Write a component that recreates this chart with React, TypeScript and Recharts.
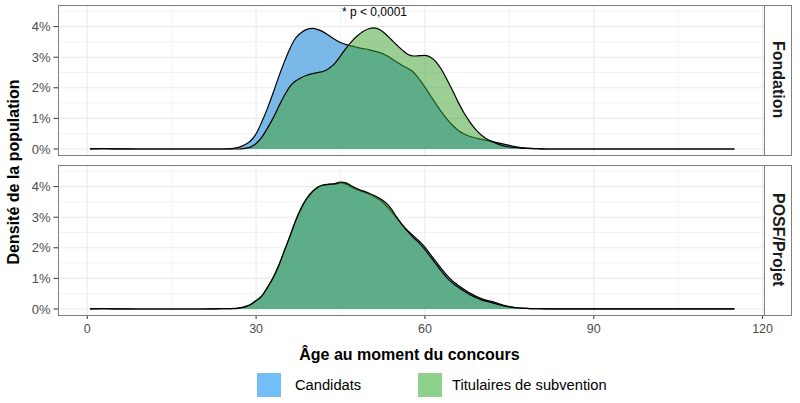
import React from 'react';
import { ComposedChart, Area, XAxis, YAxis, CartesianGrid } from 'recharts';

// Age grid (years)
const ages = [
  0.5, 3, 6, 10, 15, 20, 24, 26, 27, 28, 29, 30, 31, 32, 33, 34, 35, 36, 37, 38, 39, 40,
  41, 42, 43, 44, 45, 46, 47, 48, 49, 50, 51, 52, 53, 54, 55, 56, 57, 58, 59, 60,
  61, 62, 63, 64, 65, 66, 67, 68, 69, 70, 71, 72, 73, 74, 75, 76, 77, 78, 80, 82,
  85, 90, 100, 110, 115,
];

// Density (%) – Fondation
const fondationCandidats = [
  0.005, 0.01, 0.005, 0, 0, 0, 0, 0.02, 0.06, 0.14, 0.26, 0.5, 0.88, 1.32, 1.82, 2.35, 2.84, 3.28, 3.62, 3.8, 3.91, 3.94,
  3.9, 3.82, 3.7, 3.58, 3.48, 3.41, 3.36, 3.32, 3.28, 3.25, 3.2, 3.15, 3.07, 2.96, 2.84, 2.73, 2.63, 2.5, 2.28, 2.02,
  1.74, 1.46, 1.2, 0.96, 0.76, 0.6, 0.49, 0.41, 0.36, 0.32, 0.28, 0.24, 0.2, 0.16, 0.12, 0.08, 0.05, 0.03, 0.01, 0,
  0, 0, 0, 0, 0,
];
const fondationTitulaires = [
  0.005, 0.01, 0.005, 0, 0, 0, 0, 0, 0, 0.02, 0.06, 0.18, 0.38, 0.68, 1.0, 1.38, 1.74, 2.04, 2.22, 2.33, 2.41, 2.46,
  2.5, 2.54, 2.64, 2.8, 3.04, 3.3, 3.52, 3.7, 3.84, 3.93, 3.96, 3.9, 3.76, 3.58, 3.4, 3.23, 3.09, 3.04, 3.05, 3.06,
  3.0, 2.84, 2.58, 2.24, 1.88, 1.5, 1.16, 0.88, 0.64, 0.46, 0.33, 0.24, 0.16, 0.1, 0.07, 0.05, 0.03, 0.02, 0.01, 0,
  0, 0, 0, 0, 0,
];

// Density (%) – POSF/Projet
const posfCandidats = [
  0.005, 0.01, 0.005, 0, 0, 0, 0.01, 0.02, 0.04, 0.08, 0.15, 0.28, 0.42, 0.7, 1.0, 1.4, 1.88, 2.36, 2.86, 3.28, 3.6, 3.82,
  3.98, 4.05, 4.07, 4.08, 4.12, 4.08, 3.98, 3.9, 3.83, 3.76, 3.67, 3.56, 3.4, 3.2, 2.96, 2.74, 2.55, 2.38, 2.22, 2.02,
  1.78, 1.54, 1.3, 1.08, 0.9, 0.76, 0.64, 0.52, 0.42, 0.34, 0.28, 0.24, 0.18, 0.12, 0.08, 0.05, 0.03, 0.02, 0.01, 0.005,
  0.003, 0.002, 0.001, 0.001, 0.001,
];
const posfTitulaires = [
  0.005, 0.01, 0.005, 0, 0, 0, 0.01, 0.01, 0.03, 0.07, 0.14, 0.27, 0.42, 0.7, 1.02, 1.42, 1.9, 2.38, 2.88, 3.3, 3.62, 3.84,
  3.99, 4.06, 4.08, 4.1, 4.15, 4.12, 4.02, 3.93, 3.86, 3.79, 3.71, 3.61, 3.48, 3.28, 3.0, 2.74, 2.52, 2.33, 2.15, 1.94,
  1.7, 1.46, 1.22, 1.0, 0.83, 0.7, 0.58, 0.47, 0.38, 0.3, 0.25, 0.2, 0.15, 0.1, 0.07, 0.04, 0.03, 0.02, 0.01, 0.005,
  0.003, 0.002, 0.001, 0.001, 0.001,
];

const xTicks = [0, 30, 60, 90, 120];
const xMinor = [15, 45, 75, 105];
const yTicks = [0, 1, 2, 3, 4];
const yMinor = [0.5, 1.5, 2.5, 3.5, 4.5];
const seriesNames = ['Candidats', 'Titulaires de subvention'];
const panelNames = ['Fondation', 'POSF/Projet'];
const pLabel = '* p < 0,0001';

const fondationData = ages.map((age, i) => ({ age, cand: fondationCandidats[i], tit: fondationTitulaires[i] }));
const posfData = ages.map((age, i) => ({ age, cand: posfCandidats[i], tit: posfTitulaires[i] }));

const FONT = '"Liberation Sans", Arial, sans-serif';
const X_DOMAIN: [number, number] = [-5.2, 120.25];
const Y_DOMAIN: [number, number] = [-0.196, 4.706];
const BORDER = '#7f7f7f';

function Panel({ data, showX, top, height }: { data: any[]; showX: boolean; top: number; height: number }) {
  return (
    <div style={{ position: 'absolute', left: 0, top, width: 800, height }}>
      <ComposedChart width={800} height={height} data={data} margin={{ top: 5, right: 36, bottom: 5, left: 0 }}>
        <CartesianGrid horizontalValues={yMinor} verticalValues={xMinor} stroke="#EBEBEB" strokeWidth={0.6} />
        <CartesianGrid horizontalValues={yTicks} verticalValues={xTicks} stroke="#EBEBEB" strokeWidth={1.1} />
        <XAxis
          dataKey="age"
          type="number"
          domain={X_DOMAIN}
          allowDataOverflow
          ticks={xTicks}
          hide={!showX}
          height={30}
          axisLine={false}
          tickSize={4}
          tickMargin={5}
          tickLine={{ stroke: '#333333' }}
          tick={{ fill: '#4D4D4D', fontSize: 12.5, fontFamily: FONT }}
        />
        <YAxis
          type="number"
          domain={Y_DOMAIN}
          allowDataOverflow
          ticks={yTicks}
          width={58}
          axisLine={false}
          tickSize={4.5}
          tickMargin={3}
          tickLine={{ stroke: '#333333' }}
          tickFormatter={(v: number) => `${v}%`}
          tick={{ fill: '#4D4D4D', fontSize: 13, fontFamily: FONT }}
        />
        <Area
          type="monotone"
          dataKey="cand"
          baseValue={0}
          stroke="#000000"
          strokeWidth={1.2}
          fill="#5DA8E3"
          fillOpacity={0.82}
          dot={false}
          activeDot={false}
          isAnimationActive={false}
        />
        <Area
          type="monotone"
          dataKey="tit"
          baseValue={0}
          stroke="#000000"
          strokeWidth={1.2}
          fill="#41A32F"
          fillOpacity={0.52}
          dot={false}
          activeDot={false}
          isAnimationActive={false}
        />
      </ComposedChart>
    </div>
  );
}

function Strip({ top, label }: { top: number; label: string }) {
  return (
    <div
      style={{
        position: 'absolute',
        left: 764,
        top,
        width: 28,
        height: 151,
        boxSizing: 'border-box',
        border: `1px solid ${BORDER}`,
        background: '#ffffff',
        display: 'flex',
        alignItems: 'center',
        justifyContent: 'center',
      }}
    >
      <span style={{ writingMode: 'vertical-rl', fontWeight: 'bold', fontSize: 16, color: '#1A1A1A', fontFamily: FONT }}>
        {label}
      </span>
    </div>
  );
}

function Frame({ top }: { top: number }) {
  return (
    <div
      style={{
        position: 'absolute',
        left: 58,
        top,
        width: 707,
        height: 151,
        boxSizing: 'border-box',
        border: `1px solid ${BORDER}`,
        pointerEvents: 'none',
      }}
    />
  );
}

export default function App() {
  return (
    <div
      style={{
        position: 'absolute',
        left: 0,
        top: 0,
        width: 800,
        height: 403,
        background: '#ffffff',
        fontFamily: FONT,
        overflow: 'hidden',
      }}
    >
      <Panel data={fondationData} showX={false} top={0} height={160} />
      <Panel data={posfData} showX={true} top={160} height={190} />
      <Frame top={4.5} />
      <Frame top={164.5} />
      <Strip top={4.5} label={panelNames[0]} />
      <Strip top={164.5} label={panelNames[1]} />

      <div
        style={{
          position: 'absolute',
          left: 374.5 - 60,
          top: 4,
          width: 120,
          textAlign: 'center',
          fontSize: 12,
          lineHeight: '16px',
          color: '#000',
        }}
      >
        {pLabel}
      </div>

      <div
        style={{
          position: 'absolute',
          left: 14 - 150,
          top: 172 - 10,
          width: 300,
          height: 20,
          lineHeight: '20px',
          textAlign: 'center',
          transform: 'rotate(-90deg)',
          fontWeight: 'bold',
          fontSize: 16,
          color: '#000',
        }}
      >
        Densité de la population
      </div>

      <div
        style={{
          position: 'absolute',
          left: 409.5 - 200,
          top: 345,
          width: 400,
          height: 20,
          lineHeight: '20px',
          textAlign: 'center',
          fontWeight: 'bold',
          fontSize: 16,
          color: '#000',
        }}
      >
        Âge au moment du concours
      </div>

      <div style={{ position: 'absolute', left: 257, top: 373, width: 24, height: 24, background: '#74BEF7' }} />
      <div style={{ position: 'absolute', left: 295, top: 375, height: 20, lineHeight: '20px', fontSize: 14.7, color: '#000' }}>
        {seriesNames[0]}
      </div>
      <div style={{ position: 'absolute', left: 418, top: 373, width: 24, height: 24, background: '#8DD18A' }} />
      <div style={{ position: 'absolute', left: 452, top: 375, height: 20, lineHeight: '20px', fontSize: 14.7, color: '#000' }}>
        {seriesNames[1]}
      </div>
    </div>
  );
}
